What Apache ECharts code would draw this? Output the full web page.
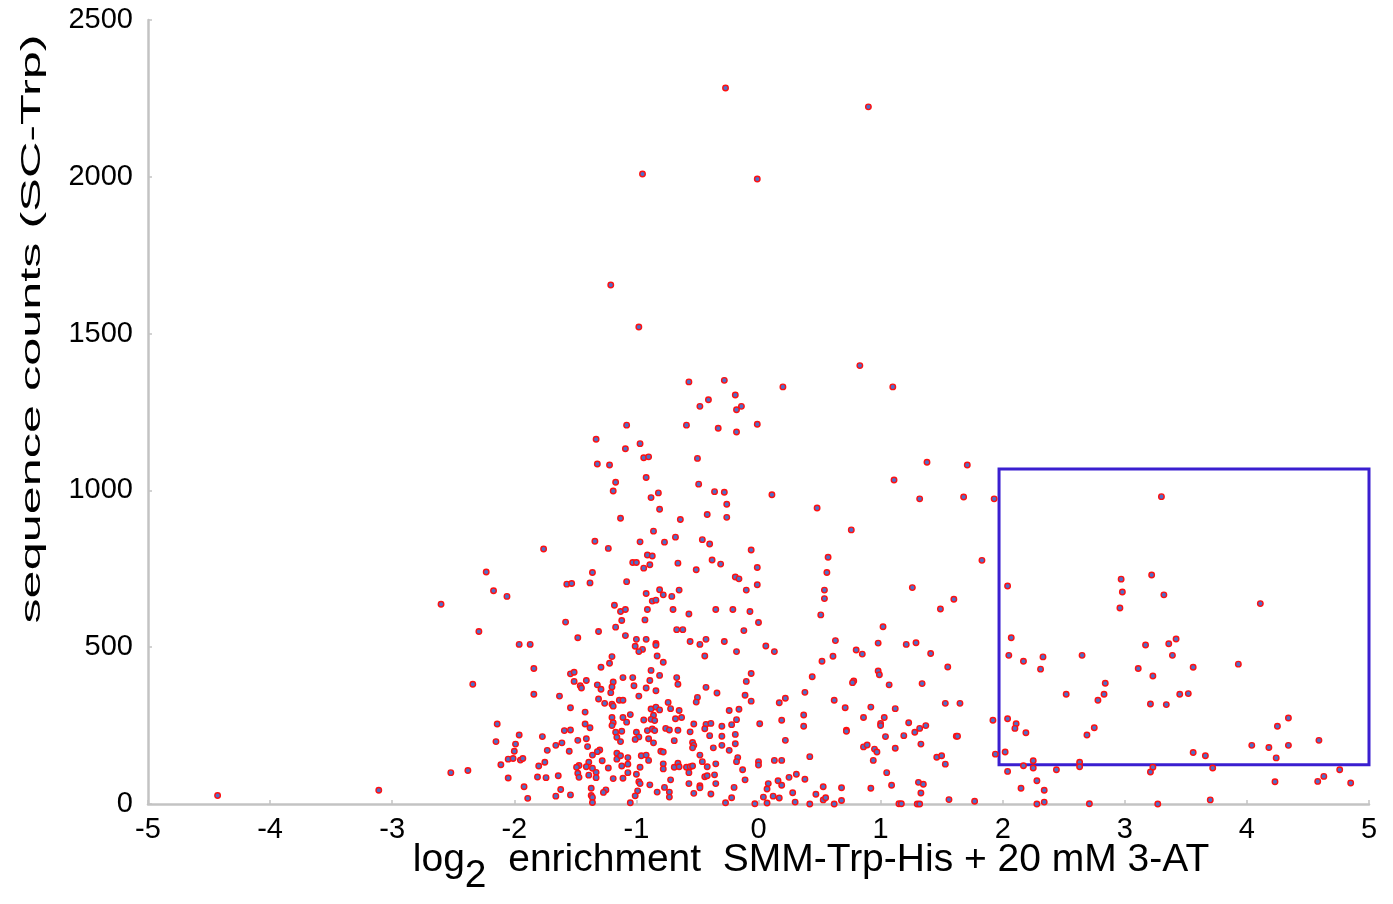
<!DOCTYPE html>
<html>
<head>
<meta charset="utf-8">
<title>sequence counts vs log2 enrichment</title>
<script src="https://cdn.jsdelivr.net/npm/echarts@6/dist/echarts.min.js"></script>
<style>
  html, body { margin: 0; padding: 0; background: #fff; }
  #chart { width: 1393px; height: 904px; }
</style>
</head>
<body>
<div id="chart"></div>
<script>
// [log2 enrichment, sequence counts], grouped by area
var leftTail = [
  [-4.43, 27], [-3.11, 44], [-2.60, 637], [-2.29, 550], [-2.34, 382], [-2.52, 100], [-2.38, 107],
  [-1.34, 838], [-1.23, 815], [-1.76, 813], [-2.23, 740], [-1.36, 738], [-2.17, 680], [-2.06, 662],
  [-1.57, 701], [-1.53, 703], [-1.38, 705], [-1.18, 634], [-1.17, 564], [-1.58, 580], [-1.31, 550],
  [-1.48, 530], [-1.96, 509], [-1.87, 509], [-1.84, 432], [-1.20, 470], [-1.22, 449], [-1.29, 436],
  [-1.54, 415], [-1.51, 420], [-1.41, 394], [-1.51, 391], [-1.46, 377], [-1.45, 370], [-1.32, 380],
  [-1.29, 366], [-1.19, 389], [-1.20, 373], [-1.21, 355], [-1.84, 350], [-1.63, 344], [-1.31, 335],
  [-1.26, 321], [-1.20, 318], [-1.19, 312], [-1.14, 331], [-1.54, 307], [-1.42, 293], [-1.20, 276],
  [-1.19, 259], [-1.20, 250], [-1.42, 255], [-1.38, 243], [-2.14, 255], [-1.59, 234], [-1.54, 236],
  [-1.17, 229], [-1.16, 213], [-1.96, 220], [-2.15, 199], [-1.77, 215], [-1.41, 208], [-1.48, 203],
  [-1.99, 191], [-1.61, 195], [-1.66, 187], [-1.40, 183], [-1.30, 172], [-1.32, 167], [-1.73, 171],
  [-1.55, 168], [-2.00, 168], [-1.36, 156], [-1.16, 162], [-1.16, 143], [-2.05, 143], [-2.01, 145],
  [-1.95, 140], [-1.93, 145], [-1.28, 138], [-1.39, 133], [-1.75, 133], [-2.11, 125], [-1.80, 121],
  [-1.47, 123], [-1.49, 117], [-1.41, 119], [-1.36, 114], [-1.23, 115], [-1.48, 98], [-1.33, 101],
  [-1.39, 92], [-1.47, 85], [-1.33, 84], [-2.05, 83], [-1.81, 86], [-1.74, 84], [-1.64, 90],
  [-1.19, 81], [-1.92, 55], [-1.37, 50], [-1.62, 46], [-1.25, 45], [-1.27, 37], [-1.89, 18],
  [-1.66, 25], [-1.54, 29], [-1.37, 27], [-1.36, 21], [-1.36, 5]
];

var coreLow = [
  [-1.12, 585], [-0.93, 587], [-1.09, 537], [-1.00, 525], [-0.92, 525], [-0.67, 556], [-0.62, 556],
  [-0.56, 518], [-0.48, 509], [-0.43, 525], [-0.28, 518], [-0.12, 553], [0.00, 579], [-1.01, 503],
  [-0.95, 493], [-0.98, 486], [-0.84, 512], [-0.84, 506], [-0.83, 472], [-0.78, 452], [-0.44, 472],
  [-0.18, 486], [-0.88, 426], [-0.81, 410], [-1.11, 403], [-1.03, 403], [-0.67, 403], [-0.89, 394],
  [-0.66, 382], [-1.02, 377], [-0.92, 370], [-0.84, 361], [-0.43, 372], [-0.34, 354], [-0.06, 416],
  [-0.10, 391], [-0.11, 347], [-0.06, 328], [-0.98, 344], [-1.11, 331], [-0.74, 324], [-0.50, 340],
  [-0.51, 325], [-0.88, 303], [-0.84, 309], [-0.81, 300], [-0.72, 304], [-0.65, 298], [-0.16, 302],
  [-0.24, 298], [-1.05, 285], [-0.86, 283], [-1.11, 276], [-0.94, 268], [-0.88, 270], [-0.85, 266],
  [-0.68, 272], [-0.63, 276], [-1.08, 261], [-0.43, 254], [-0.39, 257], [-0.53, 255], [-0.30, 248],
  [-0.22, 253], [-0.18, 269], [0.01, 256], [-1.12, 232], [-1.00, 229], [-0.91, 234], [-0.87, 239],
  [-0.85, 234], [-0.76, 241], [-0.73, 236], [-0.66, 235], [-0.56, 230], [-0.44, 240], [-0.40, 218],
  [-0.30, 216], [-0.19, 222], [-0.98, 214], [-1.01, 206], [-0.90, 208], [-1.13, 199], [-0.86, 195],
  [-0.69, 202], [-0.54, 196], [-0.53, 187], [-0.54, 179], [-0.37, 179], [-0.30, 187], [-0.24, 171],
  [-0.19, 192], [-0.80, 168], [-0.78, 166], [-1.13, 154], [-1.07, 148], [-0.96, 154], [-0.92, 156],
  [-0.90, 139], [-0.48, 156], [-0.17, 148], [-0.18, 135], [0.00, 135], [0.00, 124], [-1.12, 121],
  [-1.07, 127], [-0.97, 117], [-0.78, 128], [-0.78, 112], [-0.69, 117], [-0.66, 130], [-0.65, 119],
  [-0.59, 117], [-0.56, 119], [-0.54, 121], [-0.46, 135], [-0.42, 119], [-0.35, 128], [-0.13, 109],
  [-0.57, 100], [-1.00, 95], [-1.07, 100], [-1.11, 82], [-0.98, 71], [-0.97, 65], [-0.89, 61],
  [-0.72, 77], [-0.44, 87], [-0.42, 90], [-0.36, 93], [-0.35, 65], [-0.48, 58], [-0.48, 52],
  [-0.57, 65], [-0.20, 53], [-0.11, 77], [-0.99, 42], [-0.77, 53], [-0.73, 38], [-0.73, 22],
  [-0.83, 38], [-1.01, 26], [-0.53, 34], [-0.39, 32], [-0.22, 20], [-1.05, 4], [-0.27, 4], [-0.03, 1]
];

var coreHigh = [
  [-0.97, 1149], [-1.09, 1133], [-0.94, 1104], [-0.90, 1107], [-0.50, 1102], [-1.22, 1081], [-0.92, 1041],
  [-1.17, 1026], [-1.19, 998], [-0.49, 1020], [-0.88, 977], [-0.82, 992], [-0.36, 996], [-0.28, 994],
  [-0.26, 956], [-0.81, 940], [-0.42, 923], [-0.64, 907], [-1.13, 911], [-0.26, 914], [-0.86, 870],
  [-0.68, 851], [-0.97, 836], [-0.77, 835], [-0.46, 843], [-0.40, 829], [-0.06, 810], [-0.91, 794],
  [-0.87, 791], [-1.03, 770], [-1.00, 770], [-0.94, 752], [-0.89, 763], [-0.66, 768], [-0.51, 747],
  [-0.38, 778], [-0.31, 765], [-0.01, 754], [-0.19, 724], [-0.16, 718], [-0.01, 699], [-0.10, 682],
  [-1.08, 709], [-0.92, 671], [-0.81, 683], [-0.78, 667], [-0.71, 662], [-0.65, 682], [-0.87, 647],
  [-0.84, 650], [-1.13, 614], [-1.09, 620], [-0.91, 620], [-0.70, 620], [-0.57, 606], [-0.35, 620],
  [-0.21, 620], [-0.07, 614],
  [-0.57, 1346], [-0.28, 1351], [-0.19, 1304], [-0.41, 1289], [-0.48, 1268], [-0.14, 1268], [-0.18, 1257],
  [-1.08, 1208], [-0.59, 1208], [-0.33, 1198], [-0.18, 1186], [-0.01, 1211], [-1.33, 1163], [-1.32, 1084],
  [0.11, 986],
  [-0.27, 2283], [0.90, 2223], [-0.95, 2009], [-0.01, 1993], [-1.21, 1655], [-0.98, 1521]
];

var rightSpread = [
  [0.83, 1398], [0.20, 1330], [1.10, 1330], [1.38, 1090], [1.71, 1081], [1.11, 1033], [0.48, 944],
  [1.32, 973], [1.68, 979], [1.93, 973], [0.76, 874],
  [0.57, 787], [0.56, 738], [0.54, 682], [0.54, 655], [0.51, 603], [1.02, 565], [0.98, 513],
  [0.63, 521], [0.06, 504], [0.13, 486], [0.80, 491], [0.85, 478], [0.61, 471], [0.52, 455],
  [0.98, 424], [0.99, 412], [0.44, 406], [0.78, 392], [0.77, 387], [1.07, 380], [0.38, 356],
  [0.22, 337], [0.17, 323], [0.62, 331], [0.71, 307], [0.92, 309], [1.12, 304], [0.37, 284],
  [0.86, 276], [1.03, 276], [0.19, 267], [0.37, 248], [1.00, 257], [1.00, 250], [0.72, 235],
  [0.72, 232], [1.04, 215], [0.22, 203], [0.86, 182], [0.89, 188], [0.95, 175], [0.97, 166],
  [1.12, 178], [0.42, 151], [0.13, 139], [0.19, 139], [0.94, 139], [1.05, 100], [0.31, 95],
  [0.25, 85], [0.38, 79], [0.08, 65], [0.16, 74], [0.19, 60], [0.07, 48], [0.53, 55], [0.68, 52],
  [0.92, 50], [1.09, 60], [0.28, 36], [0.47, 31], [0.04, 22], [0.12, 25], [0.17, 19], [0.53, 13],
  [0.55, 20], [0.68, 11], [0.30, 6], [0.07, 3], [0.42, 0], [0.62, 0], [1.15, 1],
  [1.83, 777], [1.26, 690], [1.60, 653], [1.49, 622], [1.21, 509], [1.29, 514], [1.41, 480],
  [1.55, 437], [1.34, 384], [1.53, 321], [1.65, 321], [1.92, 267], [1.23, 259], [1.32, 241],
  [1.37, 250], [1.28, 229], [1.19, 218], [1.62, 216], [1.63, 216], [1.33, 191], [1.46, 149],
  [1.50, 154], [1.53, 127], [1.94, 159], [1.31, 69], [1.35, 63], [1.33, 35], [1.56, 14], [1.77, 9],
  [1.17, 1], [1.30, 0], [1.32, 0]
];

var boxRegion = [
  [3.30, 980], [2.04, 695], [2.97, 717], [2.98, 676], [3.22, 730], [3.32, 667], [2.96, 625],
  [2.07, 530], [2.05, 474], [2.17, 455], [2.33, 469], [2.31, 430], [2.65, 474], [3.17, 507],
  [3.36, 511], [3.42, 526], [3.39, 474], [3.11, 432], [3.23, 408], [2.84, 385], [2.83, 350],
  [2.78, 331], [2.52, 350], [3.21, 319], [3.34, 317], [3.45, 350], [3.52, 352], [2.04, 272],
  [2.11, 256], [2.10, 241], [2.19, 227], [2.75, 243], [2.69, 220], [2.02, 166], [2.25, 138],
  [2.25, 115], [2.17, 122], [2.63, 133], [2.63, 119], [2.04, 104], [2.44, 109], [3.23, 117],
  [3.21, 102], [2.28, 74], [2.15, 50], [2.34, 44], [2.34, 6], [2.28, 0], [2.71, 1], [3.27, 0],
  [4.11, 639], [3.93, 446], [3.56, 436], [4.34, 274], [4.25, 248], [4.59, 203], [4.04, 187],
  [4.18, 180], [4.34, 187], [4.24, 147], [3.56, 164], [3.66, 154], [3.72, 115], [4.76, 109],
  [4.63, 88], [4.58, 72], [4.85, 67], [4.23, 71], [3.70, 13]
];

// highlighted rectangle: [x, y] of top-left and bottom-right corners
var boxCorners = [[1.97, 1068], [5, 125]];

var xTicks = [-5, 5, 1];
var yTicks = [0, 2500, 500];

var fontName = "'Liberation Sans', Arial, Helvetica, sans-serif";
var axisGray = "#c3c3c3";

var chart = echarts.init(document.getElementById("chart"));

var allPoints = leftTail.concat(coreLow, coreHigh, rightSpread, boxRegion);

chart.setOption({
  animation: false,
  backgroundColor: "#fff",
  grid: { left: 148, right: 24, top: 20, bottom: 100 },
  xAxis: {
    type: "value",
    min: xTicks[0],
    max: xTicks[1],
    interval: xTicks[2],
    splitLine: { show: false },
    axisLine: { onZero: false, lineStyle: { color: axisGray, width: 2.5 } },
    axisTick: { inside: true, length: 4, lineStyle: { color: axisGray, width: 1.5 } },
    axisLabel: { color: "#000", fontSize: 29, fontFamily: fontName, margin: 11 }
  },
  yAxis: {
    type: "value",
    min: yTicks[0],
    max: yTicks[1],
    interval: yTicks[2],
    splitLine: { show: false },
    axisLine: { show: true, onZero: false, lineStyle: { color: axisGray, width: 2.5 } },
    axisTick: { show: true, inside: true, length: 4, lineStyle: { color: axisGray, width: 1.5 } },
    axisLabel: {
      color: "#000",
      fontSize: 29,
      fontFamily: fontName,
      margin: 15,
      formatter: function (v) { return String(v); }
    }
  },
  graphic: [
    {
      // y axis title, stretched along its length like the source figure
      type: "text",
      x: 46,
      y: 329,
      rotation: Math.PI / 2,
      scaleX: 1.8,
      style: {
        text: "sequence counts (SC-Trp)",
        fontSize: 28,
        fontFamily: fontName,
        fill: "#000",
        align: "center",
        verticalAlign: "bottom"
      }
    },
    {
      type: "text",
      x: 811,
      y: 868,
      style: {
        text: "{a|log}{s|2}{a|  enrichment  SMM-Trp-His + 20 mM 3-AT}",
        align: "center",
        verticalAlign: "middle",
        rich: {
          a: { fontSize: 39, fontFamily: fontName, fill: "#000", padding: [0, 0, 16, 0] },
          s: { fontSize: 39, fontFamily: fontName, fill: "#000", padding: [16, 0, 0, 0] }
        }
      }
    }
  ],
  series: [
    {
      type: "scatter",
      data: allPoints,
      symbol: "circle",
      symbolSize: 5.5,
      itemStyle: {
        color: "#4f6fc8",
        borderColor: "#ff1010",
        borderWidth: 1.4,
        opacity: 1
      },
      markArea: {
        silent: true,
        itemStyle: {
          color: "rgba(0,0,0,0)",
          borderColor: "#3a1fd0",
          borderWidth: 3
        },
        data: [[{ coord: boxCorners[0] }, { coord: boxCorners[1] }]]
      }
    }
  ]
});
</script>
</body>
</html>
